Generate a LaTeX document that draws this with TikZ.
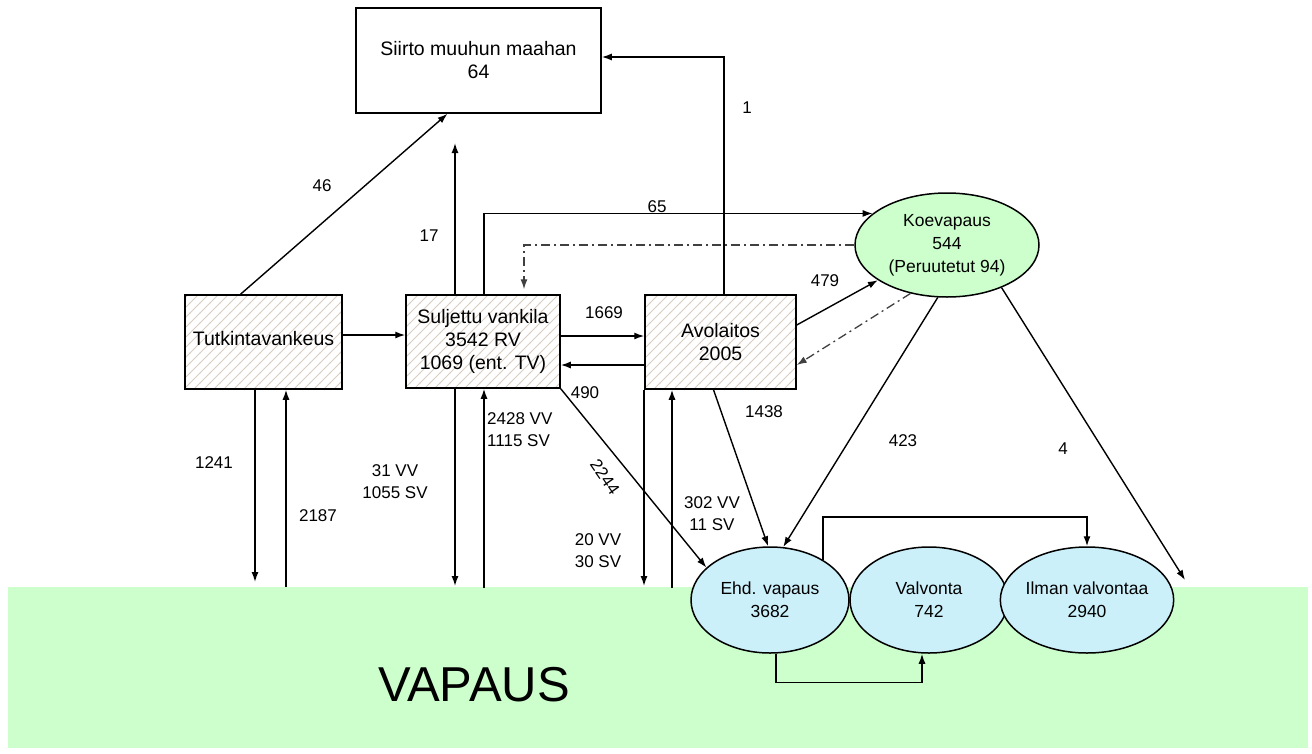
\documentclass[tikz,border=0pt]{standalone}
\usepackage{fontspec}
\setmainfont{Liberation Sans}
\usetikzlibrary{arrows.meta,shapes.geometric,patterns.meta}
\definecolor{bandgreen}{RGB}{204,255,204}
\definecolor{koegreen}{RGB}{204,255,204}
\definecolor{lightblue}{RGB}{204,240,250}
\definecolor{hatchcol}{RGB}{215,205,195}
\tikzdeclarepattern{
  name=widehatch,
  type=uncolored,
  bottom left={(-.5pt,-.5pt)},
  top right={(10.5pt,10.5pt)},
  tile size={(10pt,10pt)},
  code={\draw[line width=1pt] (-.5pt,-.5pt) -- (10.5pt,10.5pt);}
}
\tikzset{
  txt/.style={font=\fontsize{19.5}{23}\selectfont, align=center, inner sep=0pt},
  etxt/.style={font=\fontsize{17.5}{23}\selectfont, align=center, inner sep=0pt},
  lbl/.style={font=\fontsize{17}{22}\selectfont, align=center, inner sep=0pt},
  hbox/.style={draw, line width=1.5pt, pattern={widehatch}, pattern color=hatchcol, txt},
  pbox/.style={draw, line width=1.5pt, fill=white, txt},
  ell/.style={ellipse, draw, line width=1.5pt, etxt},
  arr/.style={-{Latex[length=10pt,width=7pt]}, line width=1.4pt},
  dd/.style={-{Latex[length=10pt,width=7pt]}, line width=1.3pt, draw=black!75, dash pattern=on 9pt off 4pt on 2pt off 4pt},
}
\begin{document}
\begin{tikzpicture}[x=1pt,y=-1pt]
\useasboundingbox (0,0) rectangle (1312,753);
% band
\fill[bandgreen] (8,587) rectangle (1308,748);
\node[font=\fontsize{49}{55}\selectfont, inner sep=0pt] (vapaus) at (474,685) {VAPAUS};
% boxes
\node[pbox, minimum width=245pt, minimum height=105pt] (siirto) at (478.5,60.5) {Siirto muuhun maahan\\64};
\node[hbox, minimum width=157pt, minimum height=94pt] (tutk) at (263.5,342) {\raisebox{8pt}{Tutkintavankeus}};
\node[hbox, minimum width=154pt, minimum height=93pt] (sulj) at (483,341.5) {Suljettu vankila\\3542 RV\\1069 (ent. TV)};
\node[hbox, minimum width=151pt, minimum height=94pt] (avo) at (720.5,342) {Avolaitos\\2005};
% ellipses
\node[ell, fill=koegreen, minimum width=184pt, minimum height=104pt] (koe) at (947,245) {Koevapaus\\544\\(Peruutetut 94)};
\node[ell, fill=lightblue, minimum width=158pt, minimum height=106pt] (ehd) at (770,600) {Ehd. vapaus\\3682};
\node[ell, fill=lightblue, minimum width=158pt, minimum height=106pt] (valv) at (929,600) {Valvonta\\742};
\node[ell, fill=lightblue, minimum width=158pt, minimum height=106pt] (ilman) at (1087,600) {Ilman valvontaa\\2940};
% free ends
\coordinate (e17) at (455,143);
\coordinate (e4) at (1185,580);
\coordinate (e1241) at (255,582);
\coordinate (s2187) at (286,587);
\coordinate (e31) at (455,586);
\coordinate (s2428) at (484,588);
\coordinate (e20) at (644,586);
\coordinate (s302) at (672,588);
% connectors
\draw[arr] ([shift={(-23,0)}]tutk.north) -- ([shift={(-31,0)}]siirto.south);
\draw[arr] ([shift={(-28,0)}]sulj.north) -- (e17);
\draw[arr] ([shift={(3.5,0)}]avo.north) |- ([shift={(0,-3.5)}]siirto.east);
\draw[arr] ([shift={(1,0)}]sulj.north) |- (koe.157);
\draw[dd] (koe.west) -| ([shift={(41,-5)}]sulj.north);
\draw[arr] ([shift={(0,-7)}]tutk.east) -- ([shift={(0,-6.5)}]sulj.west);
\draw[arr] ([shift={(0,-5.5)}]sulj.east) -- ([shift={(0,-6)}]avo.west);
\draw[arr] ([shift={(0,23)}]avo.west) -- ([shift={(0,23.5)}]sulj.east);
\draw[arr] ([shift={(0,-17)}]avo.east) -- (koe.207);
\draw[dd] (koe.233) -- ([shift={(0,23)}]avo.east);
\draw[arr] (sulj.south east) -- (ehd.153);
\draw[arr] ([shift={(-7,0)}]avo.south) -- (ehd.92);
\draw[arr] (koe.260) -- (ehd.76);
\draw[arr] (koe.322) -- (e4);
\draw[arr] ([shift={(-8.5,0)}]tutk.south) -- (e1241);
\draw[arr] (s2187) -- ([shift={(22.5,0)}]tutk.south);
\draw[arr] ([shift={(-28,0)}]sulj.south) -- (e31);
\draw[arr] (s2428) -- ([shift={(1,0)}]sulj.south);
\draw[arr] ([shift={(-76.5,0)}]avo.south) -- (e20);
\draw[arr] (s302) -- ([shift={(-48.5,0)}]avo.south);
\draw[arr] (ehd.37) -- ++(0,-43) -| (ilman.north);
\draw[arr] ([shift={(6,0)}]ehd.south) -- ++(0,29) -| ([shift={(-7,0)}]valv.south);
% labels
\node[lbl] (l46) at (322,186) {46};
\node[lbl] (l17) at (429,236) {17};
\node[lbl] (l1) at (747,108) {1};
\node[lbl] (l65) at (657,207) {65};
\node[lbl] (l1669) at (604,313) {1669};
\node[lbl] (l490) at (585,393) {490};
\node[lbl] (l479) at (825,281) {479};
\node[lbl] (l1438) at (764,412) {1438};
\node[lbl] (l423) at (903,441) {423};
\node[lbl] (l4) at (1063,449) {4};
\node[lbl] (l1241) at (214,463) {1241};
\node[lbl] (l2187) at (318,516) {2187};
\node[lbl] (l31) at (395,482) {31 VV\\1055 SV};
\node[lbl, anchor=west, align=left] (l2428) at (487,430) {2428 VV\\1115 SV};
\node[lbl] (l20) at (598,551) {20 VV\\30 SV};
\node[lbl] (l302) at (712,514) {302 VV\\11 SV};
\node[lbl, rotate=-55] (l2244) at (605,477) {2244};
\end{tikzpicture}
\end{document}
